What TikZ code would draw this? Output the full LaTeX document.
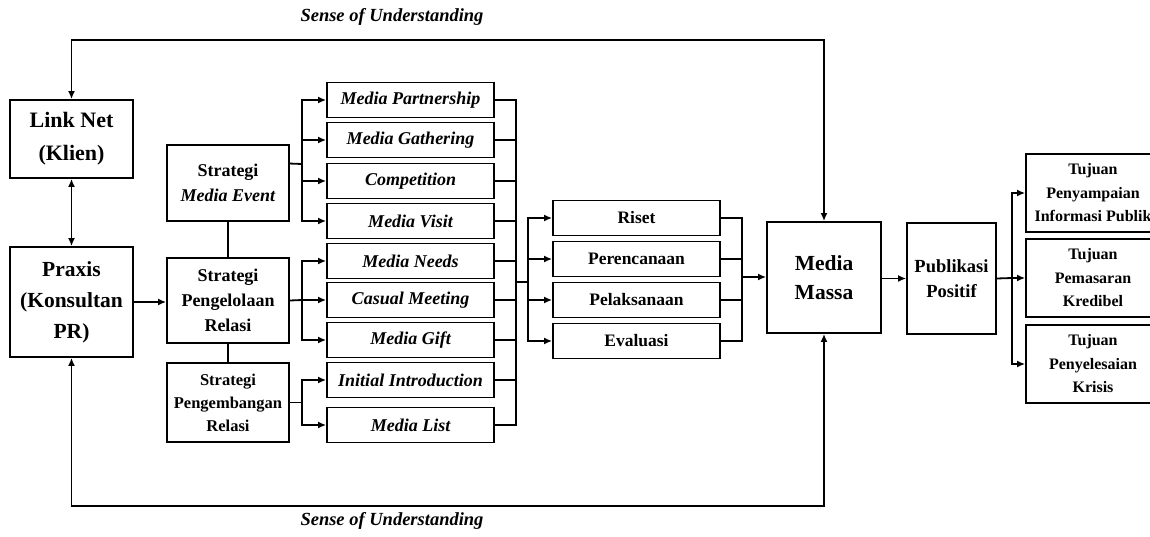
\documentclass[tikz,border=0pt]{standalone}
\usepackage{fontspec}
\setmainfont{Liberation Serif}
\usetikzlibrary{calc,arrows.meta}

\begin{document}
\begin{tikzpicture}[x=1pt,y=-1pt,line width=1.8pt,>={Latex[length=8pt,width=7pt]},
  box/.style={draw,align=center,inner sep=0pt,font=\bfseries\fontsize{18}{25}\selectfont},
  bigbox/.style={box,font=\bfseries\fontsize{21.5}{31}\selectfont},
  actbox/.style={box,minimum width=167pt,minimum height=35pt,font=\bfseries\itshape\fontsize{18}{20}\selectfont},
  stepbox/.style={box,minimum width=167pt,minimum height=35pt,font=\bfseries\fontsize{17.5}{20}\selectfont},
  goalbox/.style={box,minimum width=134pt,minimum height=78pt,font=\bfseries\fontsize{16}{23.5}\selectfont},
  sensetext/.style={font=\bfseries\itshape\fontsize{18.5}{21}\selectfont}]
    \clip (0,0) rectangle (1150,537);
    % Client and consultant
    \node[bigbox,minimum width=123pt,minimum height=78pt,font=\bfseries\fontsize{22}{33}\selectfont] (link) at (71.5,139) {Link Net\\(Klien)};
    \node[bigbox,minimum width=123pt,minimum height=110pt] (praxis) at (71.5,302) {Praxis\\(Konsultan\\PR)};
    % Strategies
    \node[box,minimum width=122pt,minimum height=76pt] (sme) at (228,183) {Strategi\\\textit{Media Event}};
    \node[box,minimum width=122pt,minimum height=85pt] (spl) at (228,300.5) {Strategi\\Pengelolaan\\Relasi};
    \node[box,minimum width=122pt,minimum height=79pt,font=\bfseries\fontsize{16.5}{23}\selectfont] (spr) at (228,402.5) {Strategi\\Pengembangan\\Relasi};
    % Activities
    \node[actbox] (mp) at (410.5,100) {Media Partnership};
    \node[actbox] (mga) at (410.5,140) {Media Gathering};
    \node[actbox] (comp) at (410.5,181) {Competition};
    \node[actbox] (mv) at (410.5,221) {Media Visit};
    \node[actbox] (mn) at (410.5,261) {Media Needs};
    \node[actbox] (cm) at (410.5,300) {Casual Meeting};
    \node[actbox] (mgi) at (410.5,340) {Media Gift};
    \node[actbox] (ii) at (410.5,380) {Initial Introduction};
    \node[actbox] (ml) at (410.5,425) {Media List};
    % PR steps
    \node[stepbox] (riset) at (636.5,218) {Riset};
    \node[stepbox] (renc) at (636.5,259) {Perencanaan};
    \node[stepbox] (laks) at (636.5,300) {Pelaksanaan};
    \node[stepbox] (eval) at (636.5,341) {Evaluasi};
    % Media and results
    \node[bigbox,minimum width=114pt,minimum height=111pt,font=\bfseries\fontsize{21.5}{29}\selectfont] (massa) at (824,277.5) {Media\\Massa};
    \node[box,minimum width=89pt,minimum height=111pt,font=\bfseries\fontsize{18.5}{25}\selectfont] (pub) at (951.5,278.5) {Publikasi\\Positif};
    \node[goalbox] (ta) at (1093,193) {Tujuan\\Penyampaian\\Informasi Publik};
    \node[goalbox] (tb) at (1093,278) {Tujuan\\Pemasaran\\Kredibel};
    \node[goalbox] (tc) at (1093,364) {Tujuan\\Penyelesaian\\Krisis};
    % Junction points
    \coordinate (t) at (450,40);
    \coordinate (b) at (450,506);
    \coordinate (j1) at (302,164);
    \coordinate (j2) at (302,300);
    \coordinate (j3) at (302,402.5);
    \coordinate (j4) at (516,282);
    \coordinate (j5) at (528,282);
    \coordinate (j6) at (742,277);
    \coordinate (j7) at (1012,278);
    % Feedback loops
    \draw[<->] (link.north) |- (t) -| (massa.north);
    \draw[<->] (praxis.south) |- (b) -| (massa.south);
    \node[sensetext] (senset) at (392,17) {Sense of Understanding};
    \node[sensetext] (senseb) at (392,521) {Sense of Understanding};
    \draw[<->] (link) -- (praxis);
    \draw[->] (praxis.east) -- (praxis.east -| spl.west);
    \draw (sme) -- (spl);
    \draw (spl) -- (spr);
    % Strategy branches
    \draw ($(sme.north east)!0.25!(sme.south east)$) -- (j1);
    \draw[->] (j1) |- (mp.west);
    \draw[->] (j1) |- (mga.west);
    \draw[->] (j1) |- (comp.west);
    \draw[->] (j1) |- (mv.west);
    \draw (spl.east) -- (j2);
    \draw[->] (j2) |- (mn.west);
    \draw[->] (j2) |- (cm.west);
    \draw[->] (j2) |- (mgi.west);
    \draw (spr.east) -- (j3);
    \draw[->] (j3) |- (ii.west);
    \draw[->] (j3) |- (ml.west);
    % Collect activities
    \draw (mp.east) -| (j4);
    \draw (mga.east) -| (j4);
    \draw (comp.east) -| (j4);
    \draw (mv.east) -| (j4);
    \draw (mn.east) -| (j4);
    \draw (cm.east) -| (j4);
    \draw (mgi.east) -| (j4);
    \draw (ii.east) -| (j4);
    \draw (ml.east) -| (j4);
    \draw (j4) -- (j5);
    \draw[->] (j5) |- (riset.west);
    \draw[->] (j5) |- (renc.west);
    \draw[->] (j5) |- (laks.west);
    \draw[->] (j5) |- (eval.west);
    % Collect steps
    \draw (riset.east) -| (j6);
    \draw (renc.east) -| (j6);
    \draw (laks.east) -| (j6);
    \draw (eval.east) -| (j6);
    \draw[->] (j6) -- (massa.west |- j6);
    \draw[->] (massa.east |- pub.west) -- (pub.west);
    % Goals
    \draw (pub.east) -- (j7);
    \draw[->] (j7) |- (ta.west);
    \draw[->] (j7) |- (tb.west);
    \draw[->] (j7) |- (tc.west);
\end{tikzpicture}
\end{document}
